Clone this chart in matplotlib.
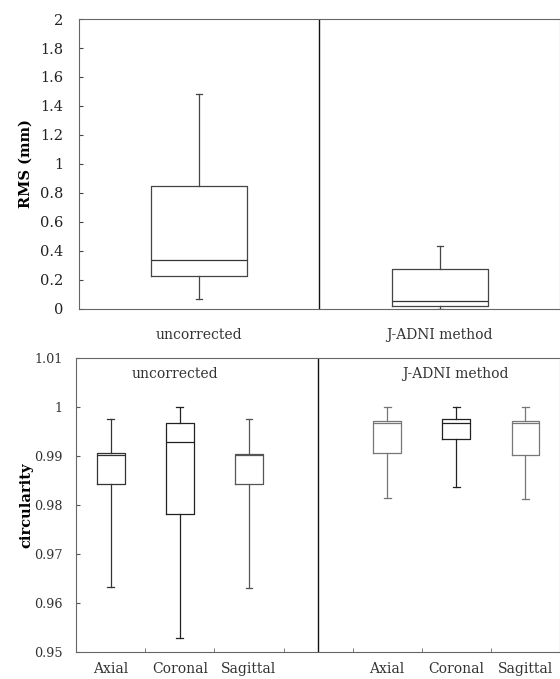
import matplotlib.pyplot as plt

plt.rcParams['font.family'] = ['DejaVu Serif']

# RMS (mm) box statistics
rms_groups = ['uncorrected', 'J-ADNI method']
rms_low = [0.07, 0.0]
rms_q1 = [0.225, 0.023]
rms_med = [0.34, 0.053]
rms_q3 = [0.85, 0.273]
rms_high = [1.485, 0.435]

# circularity box statistics
planes = ['Axial', 'Coronal', 'Sagittal']
circ_pos = [1, 2, 3, 5, 6, 7]
circ_low = [0.9632, 0.9528, 0.9630, 0.9814, 0.9836, 0.9811]
circ_q1 = [0.9843, 0.9781, 0.9842, 0.9905, 0.9935, 0.9902]
circ_med = [0.9902, 0.9929, 0.9902, 0.9967, 0.9967, 0.9966]
circ_q3 = [0.9905, 0.9966, 0.9904, 0.9972, 0.9975, 0.9971]
circ_high = [0.9976, 0.9999, 0.9975, 0.9999, 0.9999, 0.9999]
circ_colors = ['#333333', '#222222', '#555555', '#777777', '#222222', '#777777']


def stats(low, q1, med, q3, high):
    return [dict(whislo=a, q1=b, med=c, q3=d, whishi=e, fliers=[])
            for a, b, c, d, e in zip(low, q1, med, q3, high)]


fig = plt.figure(figsize=(5.6, 6.79), dpi=100)

# ---- top panel: RMS
ax1 = fig.add_axes([0.141, 0.545, 0.859, 0.427])
ax1.bxp(stats(rms_low, rms_q1, rms_med, rms_q3, rms_high), positions=[1, 2],
        widths=0.4, capwidths=0.025,
        boxprops=dict(color='#444444', lw=0.9),
        medianprops=dict(color='#333333', lw=0.9),
        whiskerprops=dict(color='#444444', lw=0.9),
        capprops=dict(color='#444444', lw=0.9))
ax1.set_xlim(0.5, 2.5)
ax1.set_ylim(0, 2)
ax1.set_yticks([0, 0.2, 0.4, 0.6, 0.8, 1, 1.2, 1.4, 1.6, 1.8, 2])
ax1.set_yticklabels(['0', '0.2', '0.4', '0.6', '0.8', '1', '1.2', '1.4', '1.6', '1.8', '2'])
ax1.set_xticks([1, 2])
ax1.set_xticklabels(rms_groups)
ax1.tick_params(axis='x', length=0, pad=14, labelsize=10, colors='#333333')
ax1.tick_params(axis='y', direction='in', length=3, labelsize=10.5, colors='#444444',
                labelcolor='#222222', pad=11.5)
ax1.axvline(1.5, color='#111111', lw=1)
for s in ax1.spines.values():
    s.set_color('#666666')
    s.set_linewidth(0.8)
ax1.set_ylabel('RMS (mm)', fontweight='bold', fontsize=10.5, labelpad=5)

# ---- bottom panel: circularity
ax2 = fig.add_axes([0.136, 0.040, 0.864, 0.433])
for p, st, c in zip(circ_pos, stats(circ_low, circ_q1, circ_med, circ_q3, circ_high), circ_colors):
    ax2.bxp([st], positions=[p], widths=0.4, capwidths=0.1,
            boxprops=dict(color=c, lw=0.9),
            medianprops=dict(color=c, lw=0.9),
            whiskerprops=dict(color=c, lw=0.9),
            capprops=dict(color=c, lw=0.9))
ax2.set_xlim(0.5, 7.5)
ax2.set_ylim(0.95, 1.01)
ax2.set_yticks([0.95, 0.96, 0.97, 0.98, 0.99, 1.0, 1.01])
ax2.set_yticklabels(['0.95', '0.96', '0.97', '0.98', '0.99', '1', '1.01'])
ax2.set_xticks(circ_pos)
ax2.set_xticklabels(planes + planes)
ax2.set_xticks([1.5, 2.5, 3.5, 4.5, 5.5, 6.5], minor=True)
ax2.tick_params(axis='x', which='major', length=0, pad=7, labelsize=10, colors='#333333')
ax2.tick_params(axis='x', which='minor', direction='in', length=3, color='#666666')
ax2.tick_params(axis='y', direction='in', length=3, labelsize=9.2, colors='#555555',
                labelcolor='#333333', pad=10)
ax2.axvline(4, color='#111111', lw=1)
for s in ax2.spines.values():
    s.set_color('#666666')
    s.set_linewidth(0.8)
ax2.set_ylabel('circularity', fontweight='bold', fontsize=10.5, labelpad=0.5)
ax2.text(1.93, 1.0068, 'uncorrected', ha='center', va='center', fontsize=10, color='#333333')
ax2.text(5.98, 1.0068, 'J-ADNI method', ha='center', va='center', fontsize=10, color='#333333')

fig.savefig('out.png', dpi=100)
